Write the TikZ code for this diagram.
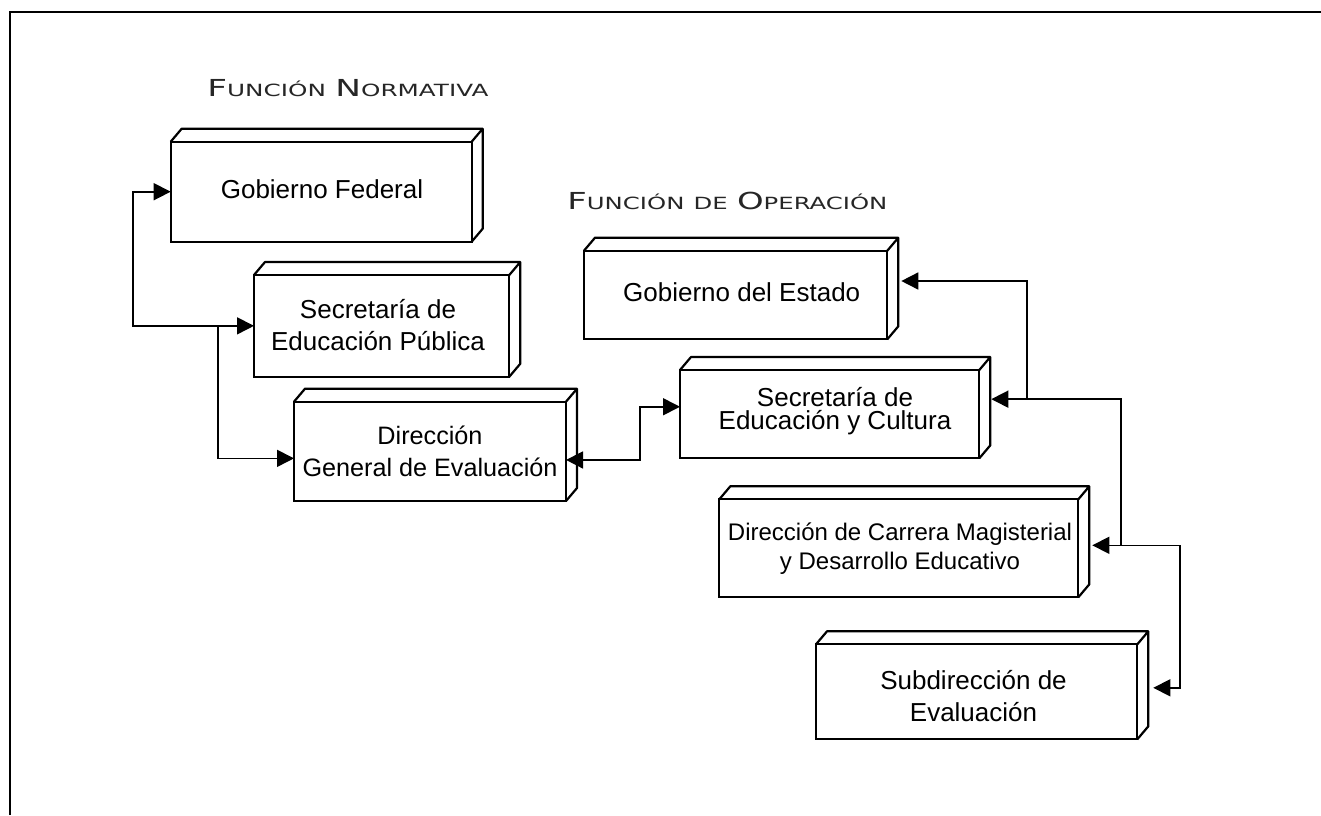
\documentclass[tikz,border=0pt]{standalone}
\usepackage{fontspec}
\setmainfont{Liberation Sans}
\newfontfamily\titlefont{DejaVu Sans}
\usetikzlibrary{arrows.meta,fit,calc}
\newcommand\bigsc[1]{{\fontsize{11.7}{12}\selectfont #1}}
\newcommand\smsc[1]{{\fontsize{8.4}{9}\selectfont #1}}
\newcommand\cube[5]{%
  \node[front, fit={(#2,#3) (#4,#5)}] (#1) {};
  \draw[boxline] (#1.north west) -- ++(11,-13) -- ([shift={(11,-13)}]#1.north east)
     -- ([shift={(11,-13)}]#1.south east) -- (#1.south east)
     (#1.north east) -- ++(11,-13);}
\begin{document}
\begin{tikzpicture}[x=0.5pt,y=-0.5pt,
  front/.style={draw=black, line width=1.1pt, inner sep=0pt, outer sep=0pt},
  boxline/.style={draw=black, line width=1.1pt, line join=round},
  conn/.style={draw=black, line width=0.8pt},
  arrowend/.style={conn, -{Triangle[length=8.5pt,width=8.5pt]}},
  arrowboth/.style={conn, {Triangle[length=8.5pt,width=8.5pt]}-{Triangle[length=8.5pt,width=8.5pt]}},
  txt/.style={font=\fontsize{13}{16}\selectfont, align=center, inner sep=0pt, text=black},
  ttl/.style={inner sep=0pt, anchor=base west, text=black!85}]
\useasboundingbox (0,0) rectangle (1321,815);
% frame
\draw[line width=1pt] (10,815) -- (10,12) -- (1321,12);
% titles
\node[ttl] (tnorm) at (207,96) {\resizebox{140.5pt}{\height}{\titlefont\bigsc{F}\smsc{UNCIÓN}\ \bigsc{N}\smsc{ORMATIVA}}};
\node[ttl] (toper) at (567,209) {\resizebox{160pt}{\height}{\titlefont\bigsc{F}\smsc{UNCIÓN}\ \smsc{DE}\ \bigsc{O}\smsc{PERACIÓN}}};
% boxes
\cube{b1}{170.7}{141.7}{471.7}{241.7}
\cube{b2}{254}{275}{509.3}{376.7}
\cube{b3}{294}{401.7}{566}{501}
\cube{b4}{584}{250.7}{887.3}{339.3}
\cube{b5}{680}{370}{979.3}{458.3}
\cube{b6}{719.3}{499.3}{1078.3}{597.3}
\cube{b7}{816}{644.3}{1137.3}{739.3}
% texts
\node[txt] (t1) at (322,189.6) {Gobierno Federal};
\node[txt] (t2) at (378,325.4) {Secretaría de\\Educación Pública};
\node[txt, font=\fontsize{12.6}{16}\selectfont] (t3) at (430,451.7) {Dirección\\General de Evaluación};
\node[txt] (t4) at (741.7,292.2) {Gobierno del Estado};
\node[txt, font=\fontsize{13}{11.7}\selectfont] (t5) at (835,411) {Secretaría de\\Educación y Cultura};
\node[txt, font=\fontsize{12}{14.2}\selectfont] (t6) at (900,548.5) {Dirección de Carrera Magisterial\\y Desarrollo Educativo};
\node[txt] (t7) at (973.5,696) {Subdirección de\\Evaluación};
% helper coordinates
\coordinate (lx) at (133,0);
\coordinate (mx) at (218,0);
\coordinate (m35) at (640,0);
\coordinate (r1) at (1027,0);
\coordinate (r2) at (1121,0);
\coordinate (r3) at (1180,0);
\coordinate (a3w) at ([yshift=-3.5pt]b3.west);
\coordinate (a3) at ([yshift=-4.3pt]b3.east);
\coordinate (a5) at ([yshift=3.7pt]b5.west);
\coordinate (a4) at ([xshift=7pt,yshift=7pt]b4.east);
\coordinate (a5r) at ([xshift=6pt,yshift=7.5pt]b5.east);
\coordinate (a6) at ([xshift=7pt,yshift=1.5pt]b6.east);
\coordinate (a7) at ([xshift=8pt,yshift=2pt]b7.east);
% connectors
\draw[arrowboth] (b1.west) -| (b2.west -| lx) -- (b2.west);
\draw[arrowend] (b2.west -| mx) |- (a3w);
\draw[arrowboth] (a3) -| (a5 -| m35) -- (a5);
\draw[arrowend] (a5r -| r1) |- (a4);
\draw[arrowend] (a6 -| r2) |- (a5r);
\draw[arrowend] (a6 -| r3) |- (a7);
\draw[arrowend] (a6 -| r3) -- (a6);
\end{tikzpicture}
\end{document}
